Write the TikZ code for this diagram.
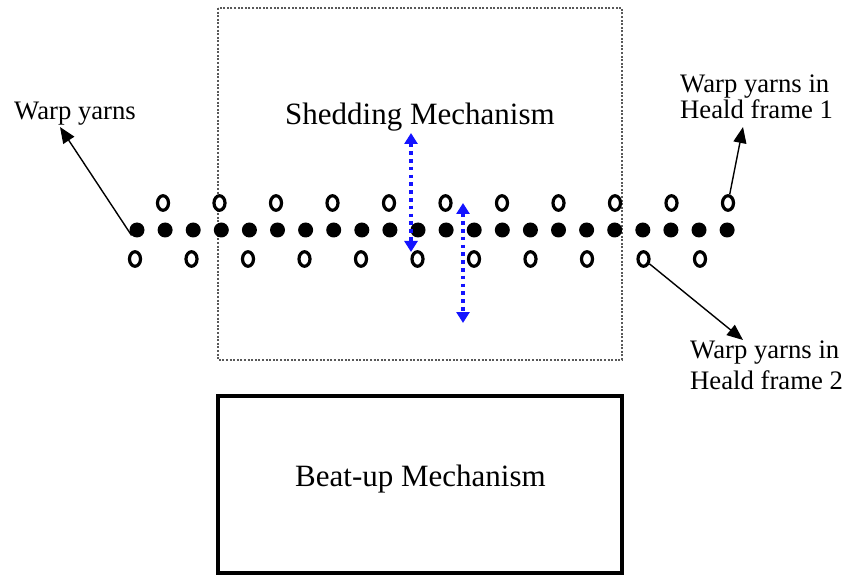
\documentclass[tikz,border=0pt]{standalone}
\usepackage{fontspec}
\setmainfont{Liberation Serif}
\usetikzlibrary{arrows.meta,shapes.geometric}

\definecolor{liftblue}{RGB}{20,20,255}
\tikzset{
  lbl/.style={inner sep=0pt, anchor=base west, font=\fontsize{26.7}{30}\selectfont},
  mech/.style={inner sep=0pt, anchor=base west, font=\fontsize{31}{34}\selectfont},
  yarnup/.style={draw=black, line width=3.2pt, fill=white, ellipse, minimum width=11pt, minimum height=14.5pt, inner sep=0pt},
  yarndot/.style={fill=black, circle, minimum size=15pt, inner sep=0pt},
  pointer/.style={line width=1.4pt, -{Triangle[length=16pt,width=13pt]}},
  liftarrow/.style={draw=liftblue, line width=3.6pt, dash pattern=on 3.6pt off 4.2pt,
    {Triangle[length=11pt,width=13pt,fill=liftblue]}-{Triangle[length=11pt,width=13pt,fill=liftblue]}},
  shedbox/.style={draw=black!65, line width=2.4pt, dash pattern=on 2pt off 1.6pt},
  beatbox/.style={draw=black, line width=3.2pt},
}

\begin{document}
\begin{tikzpicture}[x=1pt, y=-1pt]
\useasboundingbox (0,0) rectangle (848,577);

% mechanism boxes
\draw[shedbox] (218,8) rectangle (622,360);
\draw[beatbox] (218,396) rectangle (622,573);
\node[mech] (shedtext) at (285,125) {Shedding Mechanism};
\node[mech] (beattext) at (295,486) {Beat-up Mechanism};

% warp yarns: middle row and the two heald frames
\foreach \i in {0,...,21}
  \node[yarndot] (d\i) at ({137+28.1*\i},230) {};
\foreach \i in {0,...,10}
  \node[yarnup] (u\i) at ({163+56.5*\i},203) {};
\foreach \i in {0,...,10}
  \node[yarnup] (l\i) at ({135+56.5*\i},259) {};

% heald frame motion
\coordinate (a1top) at (411,133);
\coordinate (a1bot) at (411,252);
\coordinate (a2top) at (463,203);
\coordinate (a2bot) at (463,323);
\draw[liftarrow] (a1top) -- (a1bot);
\draw[liftarrow] (a2top) -- (a2bot);

% labels
\node[lbl] (warp) at (14,120) {Warp yarns};
\node[lbl] (hfa1) at (680,93) {Warp yarns in};
\node[lbl] (hfa2) at (680,119) {Heald frame 1};
\node[lbl] (hfb1) at (690,358) {Warp yarns in};
\node[lbl] (hfb2) at (690,389) {Heald frame 2};

% pointers
\coordinate (warptip) at (60,127);
\coordinate (hfatip) at (743,127);
\coordinate (hfbtip) at (743,340);
\draw[pointer] (d0.south west) -- (warptip);
\draw[pointer] (u10) -- (hfatip);
\draw[pointer] (l9) -- (hfbtip);
\end{tikzpicture}
\end{document}
